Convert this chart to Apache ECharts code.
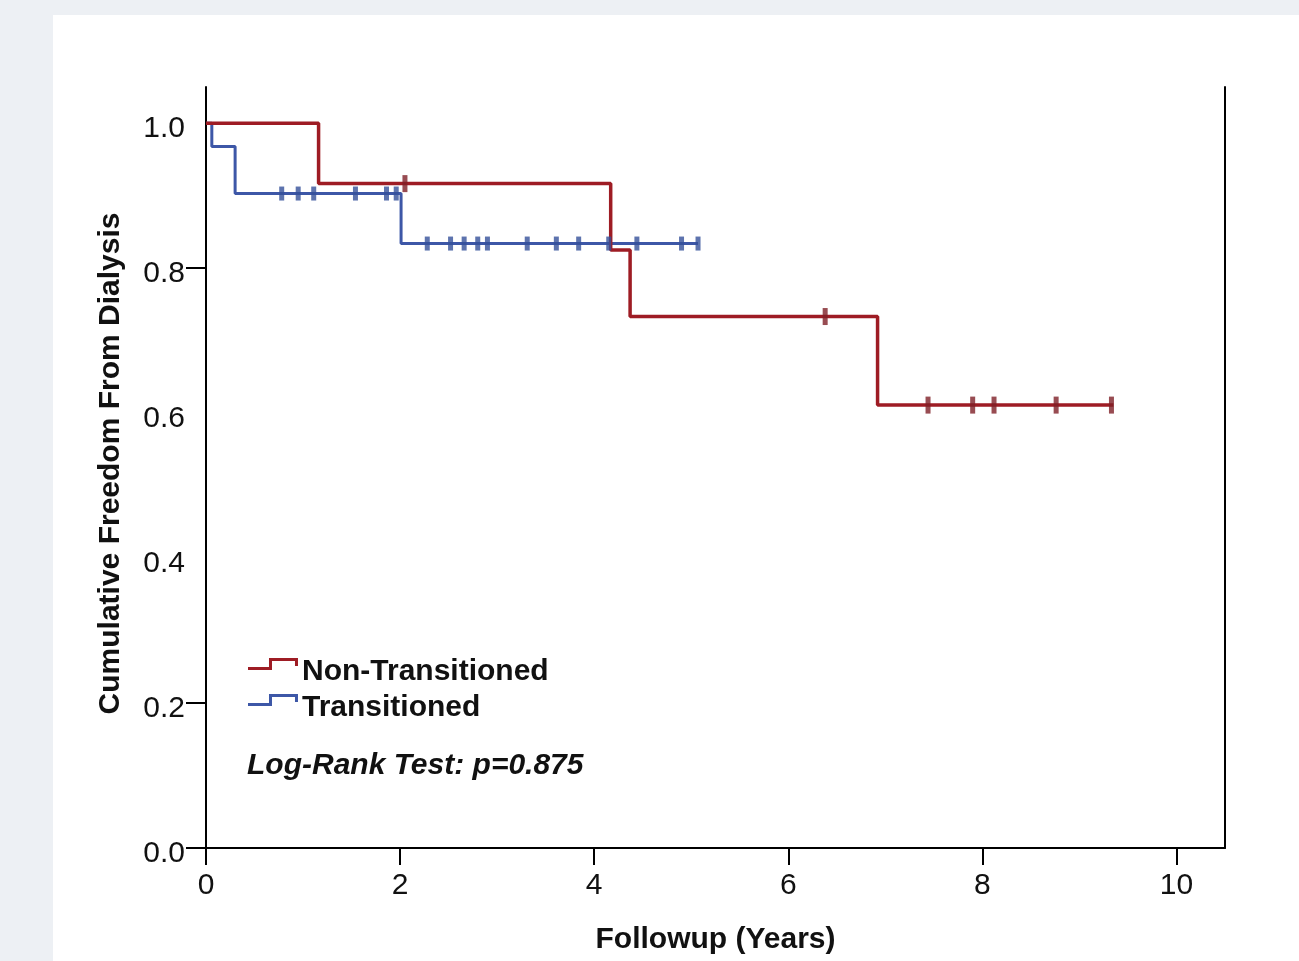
<!DOCTYPE html>
<html>
<head>
<meta charset="utf-8">
<script src="https://cdn.jsdelivr.net/npm/echarts@6/dist/echarts.min.js"></script>
<style>
  html, body { margin: 0; padding: 0; width: 1299px; height: 961px; background: #edf0f4; overflow: hidden; }
  #chart { position: absolute; left: 53px; top: 15px; width: 1246px; height: 946px; background: #ffffff; }
</style>
</head>
<body>
<div id="chart"></div>
<script>
// Kaplan-Meier step points [time (years), cumulative freedom from dialysis]
const nonTransitionedSteps = [[0, 1.0], [1.16, 0.9167], [4.17, 0.825], [4.37, 0.7333], [6.92, 0.6111], [9.35, 0.6111]];
const transitionedSteps = [[0, 1.0], [0.06, 0.968], [0.30, 0.903], [2.01, 0.834], [5.07, 0.834]];

// Censored observations [time, survival]
const nonTransitionedCensored = [[2.05, 0.9167], [6.38, 0.7333], [7.44, 0.6111], [7.90, 0.6111], [8.12, 0.6111], [8.76, 0.6111], [9.33, 0.6111]];
const transitionedCensored = [[0.78, 0.903], [0.95, 0.903], [1.11, 0.903], [1.54, 0.903], [1.86, 0.903], [1.96, 0.903],
  [2.28, 0.834], [2.52, 0.834], [2.66, 0.834], [2.80, 0.834], [2.90, 0.834], [3.31, 0.834], [3.61, 0.834], [3.84, 0.834],
  [4.15, 0.834], [4.44, 0.834], [4.90, 0.834], [5.07, 0.834]];

const xTickLabels = [0, 2, 4, 6, 8, 10];
const yTickLabels = [0, 0.2, 0.4, 0.6, 0.8, 1.0];
const yTickMarks = [0, 0.2, 0.8];

const seriesNames = ['Non-Transitioned', 'Transitioned'];
const annotation = 'Log-Rank Test: p=0.875';
const xTitle = 'Followup (Years)';
const yTitle = 'Cumulative Freedom From Dialysis';

const RED = '#9e1c24';
const BLUE = '#3d57a7';
const FONT = 'Liberation Sans, Arial, sans-serif';
// step-shaped legend glyph; the trailing degenerate subpath reserves empty space below it
const stepIcon = 'path://M0,9 L21,9 L21,0 L50,0 L50,8 L47,8 L47,3 L24,3 L24,12 L0,12 Z M0,28 L0.01,28 L0,28.01 Z';

const chart = echarts.init(document.getElementById('chart'));
chart.setOption({
  animation: false,
  grid: { left: 153, top: 72, right: 74, bottom: 113 },
  xAxis: {
    type: 'value', min: 0, max: 10.5, interval: 2,
    name: xTitle, nameLocation: 'middle', nameGap: 77,
    nameTextStyle: { fontFamily: FONT, fontSize: 30, fontWeight: 'bold', color: '#111' },
    axisLine: { lineStyle: { color: '#000', width: 2 } },
    axisTick: { show: true, length: 17, customValues: xTickLabels, lineStyle: { color: '#000', width: 2 } },
    axisLabel: { customValues: xTickLabels, margin: 23, fontFamily: FONT, fontSize: 30, color: '#111' },
    splitLine: { show: false }
  },
  yAxis: [{
    type: 'value', min: 0, max: 1.05, interval: 0.2,
    name: yTitle, nameLocation: 'middle', nameGap: 80,
    nameTextStyle: { fontFamily: FONT, fontSize: 30, fontWeight: 'bold', color: '#111', padding: [0, 0, 0, 8] },
    axisLine: { show: true, lineStyle: { color: '#000', width: 2 } },
    axisTick: { show: true, length: 20, customValues: yTickMarks, lineStyle: { color: '#000', width: 2 } },
    axisLabel: { customValues: yTickLabels, margin: 21, fontFamily: FONT, fontSize: 30, color: '#111',
      verticalAlign: 'top', lineHeight: 11, formatter: v => v.toFixed(1) },
    splitLine: { show: false }
  }, {
    type: 'value', min: 0, max: 1.05, position: 'right',
    axisLine: { show: true, lineStyle: { color: '#000', width: 2 } },
    axisTick: { show: false }, axisLabel: { show: false }, splitLine: { show: false }
  }],
  legend: {
    orient: 'vertical', left: 195, top: 642, padding: 0,
    itemWidth: 50, itemHeight: 28, itemGap: 6,
    selectedMode: false,
    textStyle: { fontFamily: FONT, fontSize: 30, fontWeight: 'bold', color: '#111', padding: [0, 0, 0, -1] },
    data: [{ name: seriesNames[0], icon: stepIcon }, { name: seriesNames[1], icon: stepIcon }]
  },
  graphic: [{
    type: 'text', left: 194, top: 736,
    style: { text: annotation, font: 'italic bold 30px ' + FONT, fill: '#111' }
  }],
  series: [
    { name: seriesNames[0], type: 'line', step: 'end', data: nonTransitionedSteps, showSymbol: false,
      color: RED, lineStyle: { color: RED, width: 3.5 }, z: 3 },
    { name: seriesNames[1], type: 'line', step: 'end', data: transitionedSteps, showSymbol: false,
      color: BLUE, lineStyle: { color: BLUE, width: 3 }, z: 2 },
    { name: seriesNames[0] + ' censored', type: 'scatter', data: nonTransitionedCensored,
      symbol: 'rect', symbolSize: [5, 17], itemStyle: { color: '#7e1f27' }, z: 4 },
    { name: seriesNames[1] + ' censored', type: 'scatter', data: transitionedCensored,
      symbol: 'rect', symbolSize: [5, 14], itemStyle: { color: '#34509a' }, z: 3 }
  ]
});
</script>
</body>
</html>
